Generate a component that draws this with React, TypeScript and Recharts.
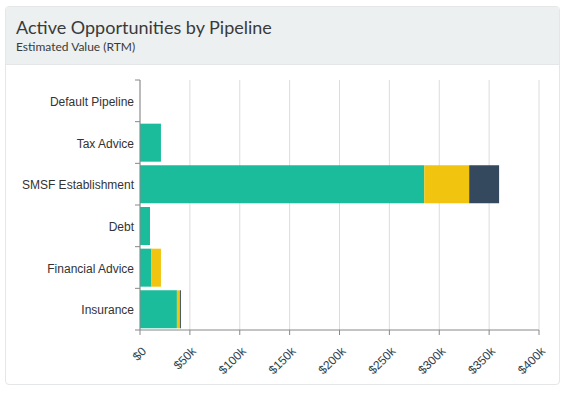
import React from 'react';
import { BarChart, Bar, XAxis, YAxis, CartesianGrid, Tooltip } from 'recharts';

const pipelines = ['Default Pipeline', 'Tax Advice', 'SMSF Establishment', 'Debt', 'Financial Advice', 'Insurance'];
const stageOne = [0, 21000, 285000, 10000, 11500, 37000];
const stageTwo = [0, 0, 45000, 0, 9500, 3000];
const stageThree = [0, 0, 30000, 0, 0, 1000];
const valueTicks = [0, 50000, 100000, 150000, 200000, 250000, 300000, 350000, 400000];

const data = pipelines.map((name, i) => ({
  name,
  stageOne: stageOne[i],
  stageTwo: stageTwo[i],
  stageThree: stageThree[i],
}));

const CHART_W = 569;
const CHART_H = 334;
const MARGIN = { top: 15, right: 30, bottom: 19, left: 0 };
const X_AXIS_H = 50;
const BAND = (CHART_H - MARGIN.top - MARGIN.bottom - X_AXIS_H) / pipelines.length;

const money = (v: number) => (v === 0 ? '$0' : `$${v / 1000}k`);

const ValueTick = (props: any) => {
  const { x, y, payload } = props;
  return (
    <g transform={`translate(${x + 1},${y + 9})`}>
      <text
        x={0}
        y={0}
        dy="0.7em"
        transform="rotate(-45)"
        textAnchor="end"
        fill="#2c3e50"
        fontSize={12}
        fontFamily="'Liberation Sans', Arial, sans-serif"
      >
        {money(payload.value)}
      </text>
    </g>
  );
};

const PipelineTick = (props: any) => {
  const { x, y, payload, index } = props;
  const top = y - BAND / 2;
  return (
    <g>
      <line x1={x + 3} x2={x + 8} y1={top} y2={top} stroke="#888" />
      {index === pipelines.length - 1 && (
        <line x1={x + 3} x2={x + 8} y1={top + BAND} y2={top + BAND} stroke="#888" />
      )}
      <text
        x={x + 2}
        y={y + 1}
        dy="0.35em"
        textAnchor="end"
        fill="#333"
        fontSize={12}
        fontFamily="'Liberation Sans', Arial, sans-serif"
      >
        {payload.value}
      </text>
    </g>
  );
};

export default function App() {
  return (
    <div style={{ position: 'absolute', left: 0, top: 0, width: 569, height: 399, background: '#fff' }}>
      <div
        style={{
          position: 'absolute',
          left: 5,
          top: 6,
          width: 553,
          height: 377,
          border: '1px solid #e4e6e7',
          borderRadius: 4,
          overflow: 'hidden',
        }}
      >
        <div
          style={{
            height: 58,
            background: '#ecf0f1',
            borderBottom: '1px solid #e4e6e7',
            padding: '9px 0 0 10px',
            boxSizing: 'border-box',
            fontFamily: 'Lato, sans-serif',
            color: '#3a3a3a',
          }}
        >
          <div style={{ fontSize: 18, lineHeight: '22px' }}>Active Opportunities by Pipeline</div>
          <div style={{ fontSize: 12, lineHeight: '16px', marginTop: 1 }}>Estimated Value (RTM)</div>
        </div>
      </div>
      <div style={{ position: 'absolute', left: 0, top: 65 }}>
        <BarChart
          width={CHART_W}
          height={CHART_H}
          data={data}
          layout="vertical"
          margin={MARGIN}
          barCategoryGap={2}
        >
          <CartesianGrid horizontal={false} stroke="#dcdcdc" />
          <XAxis
            type="number"
            domain={[0, 400000]}
            ticks={valueTicks}
            interval={0}
            height={X_AXIS_H}
            stroke="#888"
            tickSize={5}
            tick={<ValueTick />}
          />
          <YAxis
            type="category"
            dataKey="name"
            width={140}
            stroke="#888"
            tickLine={false}
            tick={<PipelineTick />}
            interval={0}
          />
          <Tooltip formatter={(v: any) => money(Number(v))} />
          <Bar dataKey="stageOne" stackId="a" fill="#1abc9c" isAnimationActive={false} />
          <Bar dataKey="stageTwo" stackId="a" fill="#f1c40f" isAnimationActive={false} />
          <Bar dataKey="stageThree" stackId="a" fill="#34495e" isAnimationActive={false} />
        </BarChart>
      </div>
    </div>
  );
}
